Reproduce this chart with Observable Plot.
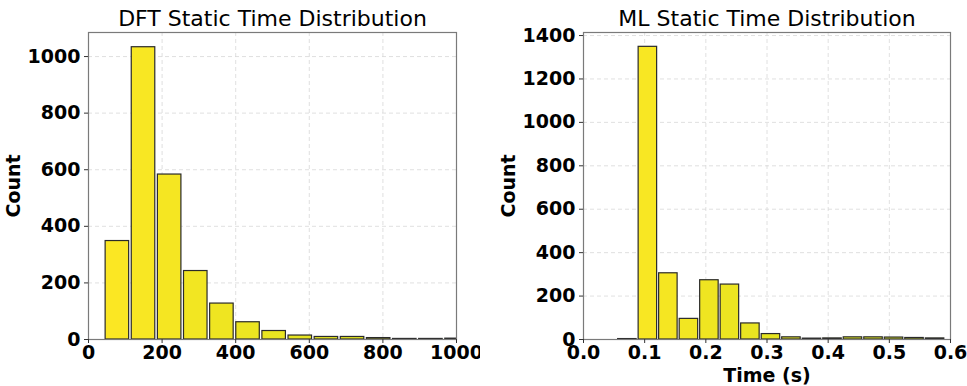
<!DOCTYPE html>
<html>
<head>
<meta charset="utf-8">
<script src="https://cdn.jsdelivr.net/npm/d3@7"></script>
<script src="https://cdn.jsdelivr.net/npm/@observablehq/plot@0.6"></script>
<style>
  body { margin: 0; background: #fff; }
  #wrap { display: flex; width: 967px; height: 386px; }
</style>
</head>
<body>
<div id="wrap"><div id="left"></div><div id="right"></div></div>
<script>
// DFT static time histogram
const dftBinStart = [43, 114, 185, 256, 327, 398, 469, 540, 611, 682, 753, 824, 895, 966];
const dftBinWidth = 71;
const dftCounts   = [348, 1033, 583, 242, 127, 61, 30, 14, 9, 9, 5, 2, 2, 3];
const dftXTicks   = [0, 200, 400, 600, 800, 1000];
const dftYTicks   = [0, 200, 400, 600, 800, 1000];

// ML static time histogram
const mlBinStart = [0.0550, 0.0885, 0.1220, 0.1556, 0.1891, 0.2226, 0.2561, 0.2897, 0.3232, 0.3568, 0.3903, 0.4238, 0.4574, 0.4909, 0.5244, 0.5580];
const mlBinWidth = 0.0335;
const mlCounts   = [2, 1348, 305, 95, 273, 253, 74, 25, 10, 4, 5, 10, 10, 9, 7, 5];
const mlXTicks   = [0, 0.1, 0.2, 0.3, 0.4, 0.5, 0.6];
const mlYTicks   = [0, 200, 400, 600, 800, 1000, 1200, 1400];

const titles = ["DFT Static Time Distribution", "ML Static Time Distribution"];

function hist({starts, width, counts, xDomain, yDomain, xTicks, yTicks, xFormat, xLabel, title, svgWidth, mLeft, mRight, inset}) {
  const data = starts.map((s, i) => ({x1: s, x2: s + width, y: counts[i], i}));
  const grid = {stroke: "#d8d8d8", strokeOpacity: 1, strokeDasharray: "4,3", strokeWidth: 0.8};
  return Plot.plot({
    width: svgWidth, height: 386,
    marginLeft: mLeft, marginRight: mRight, marginTop: 32, marginBottom: 47,
    style: {fontFamily: "DejaVu Sans", fontSize: "19px", fontWeight: "bold", color: "#000", background: "#fff", overflow: "visible"},
    x: {domain: xDomain},
    y: {domain: yDomain},
    color: {type: "linear", domain: [0, 15], range: ["#fbe723", "#cfe11d"]},
    marks: [
      Plot.gridX(xTicks, grid),
      Plot.gridY(yTicks, grid),
      Plot.rectY(data, {x1: "x1", x2: "x2", y1: 0, y2: "y", fill: "i", stroke: "#2a2a2a", strokeWidth: 1.2,
        insetLeft: inset, insetRight: inset, clip: true}),
      Plot.frame({stroke: "#7a7a7a", strokeWidth: 1.2}),
      Plot.axisX(xTicks, {tickFormat: xFormat, tickSize: 4, tickPadding: 2, fontSize: 19, fontWeight: "bold",
        label: xLabel, labelAnchor: "center", labelArrow: false, labelOffset: 42, stroke: "#333"}),
      Plot.axisY(yTicks, {tickFormat: d3.format("d"), tickSize: 4, tickPadding: 4, fontSize: 19, fontWeight: "bold",
        label: "Count", labelAnchor: "center", labelArrow: false, labelOffset: 82, stroke: "#333"}),
      Plot.text([title], {frameAnchor: "top", dy: -7, lineAnchor: "bottom", fontSize: 22, fontWeight: "normal", fill: "#000"})
    ]
  });
}

document.getElementById("left").appendChild(hist({
  starts: dftBinStart, width: dftBinWidth, counts: dftCounts,
  xDomain: [0, 1000], yDomain: [0, 1085], xTicks: dftXTicks, yTicks: dftYTicks,
  xFormat: d3.format("d"), xLabel: null, title: titles[0],
  svgWidth: 480, mLeft: 88, mRight: 24, inset: 1.3
}));
document.getElementById("right").appendChild(hist({
  starts: mlBinStart, width: mlBinWidth, counts: mlCounts,
  xDomain: [0, 0.6], yDomain: [0, 1414], xTicks: mlXTicks, yTicks: mlYTicks,
  xFormat: d3.format(".1f"), xLabel: "Time (s)", title: titles[1],
  svgWidth: 487, mLeft: 103, mRight: 17, inset: 1.0
}));
</script>
</body>
</html>
